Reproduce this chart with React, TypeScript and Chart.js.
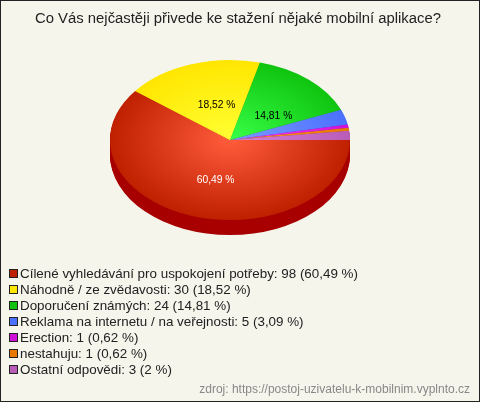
import React, { useEffect, useRef } from "react";
import { Chart, registerables } from "chart.js";

Chart.register(...registerables);

const title = "Co Vás nejčastěji přivede ke stažení nějaké mobilní aplikace?";
const categories = [
  "Cílené vyhledávání pro uspokojení potřeby",
  "Náhodně / ze zvědavosti",
  "Doporučení známých",
  "Reklama na internetu / na veřejnosti",
  "Erection",
  "nestahuju",
  "Ostatní odpovědi",
];
const counts = [98, 30, 24, 5, 1, 1, 3];
const percentLabels = ["60,49", "18,52", "14,81", "3,09", "0,62", "0,62", "2"];
const sliceLabelled = [true, true, true, false, false, false, false];
const sliceLabelColors = ["#ffffff", "#000000", "#000000", "#000000", "#000000", "#000000", "#000000"];
const edgeColors = ["#bf2000", "#ffe600", "#0fc40f", "#4a70ff", "#d010d8", "#e87800", "#b85cb8"];
const centerColors = ["#ff5c3c", "#ffff33", "#38ff48", "#7c9cff", "#ff40ff", "#ff9a20", "#d880d8"];
const sideColors = ["#a80000", "#c0a800", "#089008", "#2848c0", "#900098", "#a85000", "#804080"];
const sourceText = "zdroj: https://postoj-uzivatelu-k-mobilnim.vyplnto.cz";

const BG = "#f5f5ec";
const FONT = "Arial, 'Liberation Sans', sans-serif";
const Y_SCALE = 2 / 3;
const DEPTH = 15;

const fakePie3d = {
  id: "fakePie3d",
  beforeDatasetsDraw(chart: any) {
    const ctx = chart.ctx;
    const arcs = chart.getDatasetMeta(0).data;
    const { x: cx, y: cy } = arcs[0];
    ctx.save();
    for (let d = DEPTH; d >= 1; d--) {
      arcs.forEach((a: any, i: number) => {
        ctx.save();
        ctx.translate(cx, cy + d);
        ctx.scale(1, Y_SCALE);
        ctx.fillStyle = sideColors[i];
        ctx.beginPath();
        ctx.arc(0, 0, a.outerRadius, a.startAngle, a.endAngle);
        ctx.lineTo(0, 0);
        ctx.closePath();
        ctx.fill();
        ctx.restore();
      });
    }
    ctx.restore();
    ctx.save();
    ctx.translate(cx, cy);
    ctx.scale(1, Y_SCALE);
    ctx.translate(-cx, -cy);
  },
  afterDatasetsDraw(chart: any) {
    const ctx = chart.ctx;
    ctx.restore();
    const arcs = chart.getDatasetMeta(0).data;
    const nudgeX = [5, 6, 4];
    const nudgeY = [2, 3, 6];
    ctx.save();
    ctx.font = `10.3px ${FONT}`;
    ctx.textAlign = "center";
    ctx.textBaseline = "middle";
    arcs.forEach((a: any, i: number) => {
      if (!sliceLabelled[i]) return;
      const mid = (a.startAngle + a.endAngle) / 2;
      const r = a.outerRadius * 0.5;
      ctx.fillStyle = sliceLabelColors[i];
      ctx.fillText(
        `${percentLabels[i]} %`,
        a.x + Math.cos(mid) * r + nudgeX[i],
        a.y + Math.sin(mid) * r * Y_SCALE + nudgeY[i]
      );
    });
    ctx.restore();
  },
  afterDraw(chart: any) {
    const ctx = chart.ctx;
    ctx.save();
    ctx.textBaseline = "middle";
    ctx.font = `14.85px ${FONT}`;
    ctx.textAlign = "center";
    ctx.fillStyle = "#222222";
    ctx.fillText(title, 238, 19);
    ctx.font = `13.4px ${FONT}`;
    ctx.textAlign = "left";
    categories.forEach((c, i) => {
      const y = 274 + i * 16;
      ctx.fillStyle = edgeColors[i];
      ctx.fillRect(9.5, y - 4.5, 8, 8);
      ctx.strokeStyle = "#222222";
      ctx.lineWidth = 1;
      ctx.strokeRect(9.5, y - 4.5, 8, 8);
      ctx.fillStyle = "#222222";
      ctx.fillText(`${c}: ${counts[i]} (${percentLabels[i]} %)`, 20, y + 0.5);
    });
    ctx.fillStyle = "#888888";
    ctx.font = `12px ${FONT}`;
    ctx.textAlign = "right";
    ctx.fillText(sourceText, 470, 390);
    ctx.strokeStyle = "#222222";
    ctx.lineWidth = 1;
    ctx.strokeRect(0.5, 0.5, 479, 401);
    ctx.restore();
  },
};

export default function App() {
  const ref = useRef<HTMLCanvasElement>(null);
  useEffect(() => {
    document.body.style.margin = "0";
    document.body.style.background = BG;
    const gradient = (i: number, chart: any) => {
      const area = chart.chartArea;
      if (!area) return edgeColors[i];
      const cx = (area.left + area.right) / 2;
      const cy = (area.top + area.bottom) / 2;
      const r = Math.min(area.right - area.left, area.bottom - area.top) / 2;
      const g = chart.ctx.createRadialGradient(cx, cy, 0, cx, cy, r);
      g.addColorStop(0, centerColors[i]);
      g.addColorStop(1, edgeColors[i]);
      return g;
    };
    const chart = new Chart(ref.current!, {
      type: "pie",
      data: {
        labels: categories,
        datasets: [
          {
            data: counts,
            borderWidth: 0,
            hoverOffset: 0,
            backgroundColor: (c: any) => gradient(c.dataIndex, c.chart),
          },
        ],
      },
      options: {
        responsive: false,
        animation: false,
        rotation: 90,
        layout: { padding: { left: 110, right: 130, top: 20, bottom: 142 } },
        plugins: {
          legend: { display: false },
          tooltip: { enabled: false },
          title: { display: false },
        },
      },
      plugins: [fakePie3d],
    } as any);
    return () => chart.destroy();
  }, []);
  return (
    <canvas
      ref={ref}
      width={480}
      height={402}
      style={{ display: "block", width: 480, height: 402, background: BG }}
    />
  );
}
